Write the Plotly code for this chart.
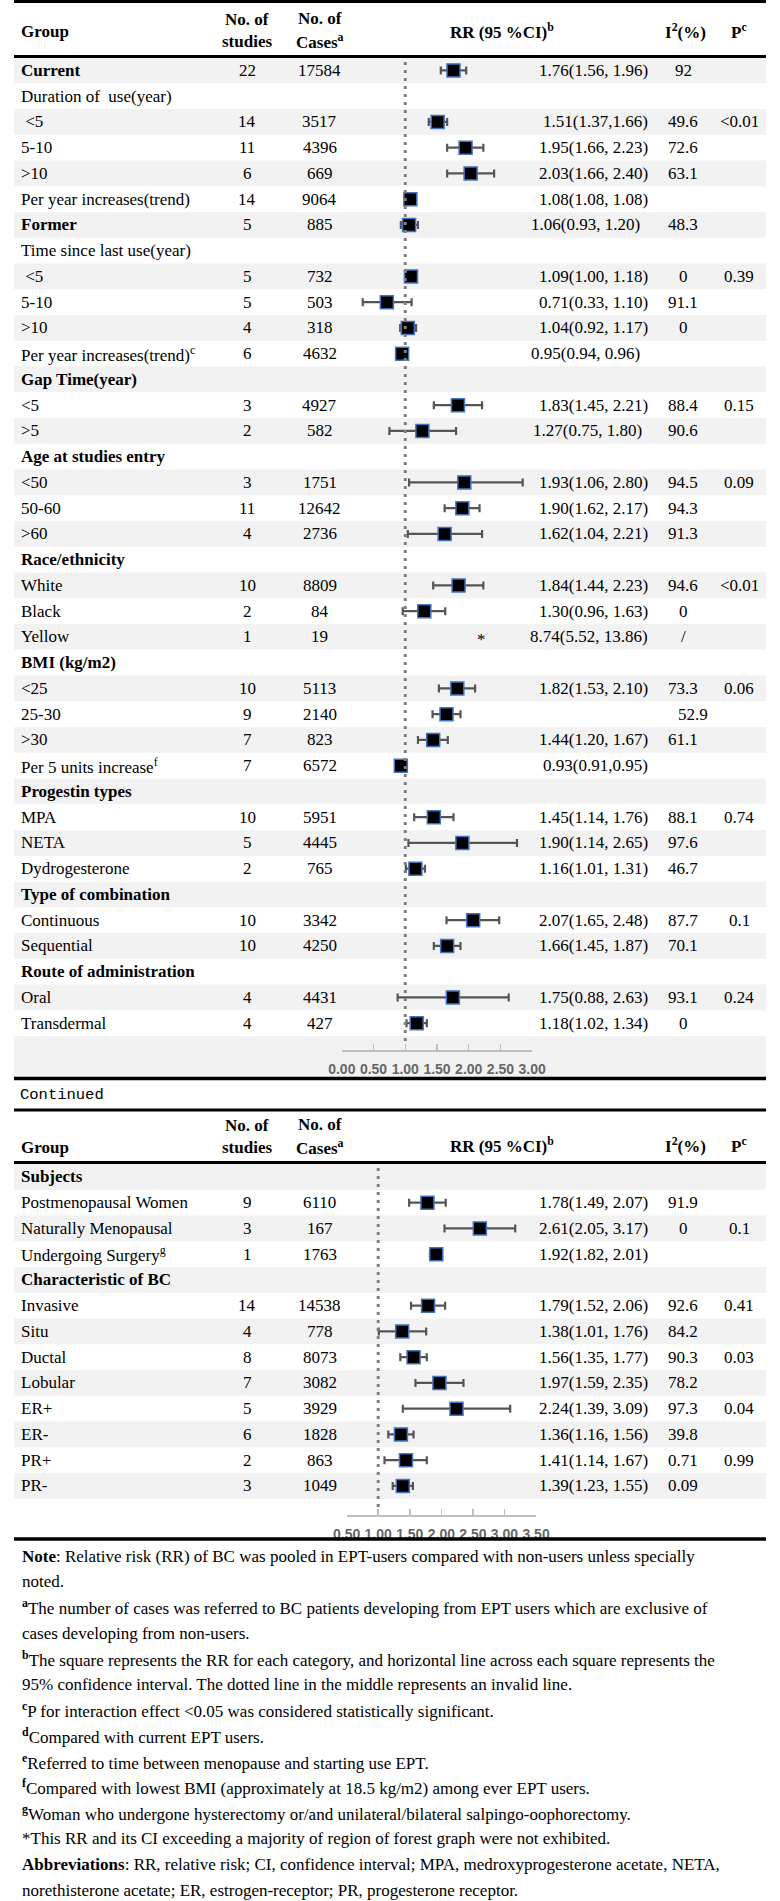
import plotly.graph_objects as go

# ---------------- data: upper panel ----------------
top_groups = ["Current", "Duration of\u00a0 use(year)", "\u00a0<5", "5-10", ">10", "Per year increases(trend)",
              "Former", "Time since last use(year)", "\u00a0<5", "5-10", ">10", "Per year increases(trend)",
              "Gap Time(year)", "<5", ">5", "Age at studies entry", "<50", "50-60", ">60",
              "Race/ethnicity", "White", "Black", "Yellow", "BMI (kg/m2)", "<25", "25-30", ">30",
              "Per 5 units increase", "Progestin types", "MPA", "NETA", "Dydrogesterone",
              "Type of combination", "Continuous", "Sequential", "Route of administration", "Oral", "Transdermal"]
top_group_sup = {11: "c", 27: "f"}
top_studies = ["22", "", "14", "11", "6", "14", "5", "", "5", "5", "4", "6", "", "3", "2", "", "3", "11", "4",
               "", "10", "2", "1", "", "10", "9", "7", "7", "", "10", "5", "2", "", "10", "10", "", "4", "4"]
top_cases = ["17584", "", "3517", "4396", "669", "9064", "885", "", "732", "503", "318", "4632", "", "4927", "582",
             "", "1751", "12642", "2736", "", "8809", "84", "19", "", "5113", "2140", "823", "6572", "", "5951",
             "4445", "765", "", "3342", "4250", "", "4431", "427"]
top_rr_text = ["1.76(1.56, 1.96)", "", "1.51(1.37,1.66)", "1.95(1.66, 2.23)", "2.03(1.66, 2.40)", "1.08(1.08, 1.08)",
               "1.06(0.93, 1.20)", "", "1.09(1.00, 1.18)", "0.71(0.33, 1.10)", "1.04(0.92, 1.17)", "0.95(0.94, 0.96)",
               "", "1.83(1.45, 2.21)", "1.27(0.75, 1.80)", "", "1.93(1.06, 2.80)", "1.90(1.62, 2.17)", "1.62(1.04, 2.21)",
               "", "1.84(1.44, 2.23)", "1.30(0.96, 1.63)", "8.74(5.52, 13.86)", "", "1.82(1.53, 2.10)", "",
               "1.44(1.20, 1.67)", "0.93(0.91,0.95)", "", "1.45(1.14, 1.76)", "1.90(1.14, 2.65)", "1.16(1.01, 1.31)",
               "", "2.07(1.65, 2.48)", "1.66(1.45, 1.87)", "", "1.75(0.88, 2.63)", "1.18(1.02, 1.34)"]
top_i2 = ["92", "", "49.6", "72.6", "63.1", "", "48.3", "", "0", "91.1", "0", "", "", "88.4", "90.6", "", "94.5",
          "94.3", "91.3", "", "94.6", "0", "/", "", "73.3", "52.9", "61.1", "", "", "88.1", "97.6", "46.7", "",
          "87.7", "70.1", "", "93.1", "0"]
top_p = ["", "", "<0.01", "", "", "", "", "", "0.39", "", "", "", "", "0.15", "", "", "0.09", "", "", "", "<0.01",
         "", "", "", "0.06", "", "", "", "", "0.74", "", "", "", "0.1", "", "", "0.24", ""]
# plotted RR and CI (as drawn in the forest graph; None = not drawn)
top_rr = [1.76, None, 1.51, 1.95, 2.03, 1.08, 1.06, None, 1.09, 0.71, 1.04, 0.95, None, 1.83, 1.27, None, 1.93,
          1.90, 1.62, None, 1.84, 1.30, None, None, 1.82, 1.65, 1.44, 0.93, None, 1.45, 1.90, 1.16, None, 2.07,
          1.66, None, 1.75, 1.18]
top_lo = [1.56, None, 1.37, 1.66, 1.66, 1.08, 0.93, None, 1.00, 0.33, 0.92, 0.94, None, 1.45, 0.75, None, 1.06,
          1.62, 1.04, None, 1.44, 0.96, None, None, 1.53, 1.43, 1.20, 0.91, None, 1.14, 1.05, 1.01, None, 1.65,
          1.45, None, 0.88, 1.02]
top_hi = [1.96, None, 1.66, 2.23, 2.40, 1.08, 1.20, None, 1.18, 1.10, 1.17, 0.96, None, 2.21, 1.80, None, 2.85,
          2.17, 2.21, None, 2.23, 1.63, None, None, 2.10, 1.87, 1.67, 0.95, None, 1.76, 2.76, 1.31, None, 2.48,
          1.87, None, 2.63, 1.34]
top_ticks = [0.0, 0.5, 1.0, 1.5, 2.0, 2.5, 3.0]

# ---------------- data: lower panel ----------------
bot_groups = ["Subjects", "Postmenopausal Women", "Naturally Menopausal", "Undergoing Surgery",
              "Characteristic of BC", "Invasive", "Situ", "Ductal", "Lobular", "ER+", "ER-", "PR+", "PR-"]
bot_group_sup = {3: "g"}
bot_studies = ["", "9", "3", "1", "", "14", "4", "8", "7", "5", "6", "2", "3"]
bot_cases = ["", "6110", "167", "1763", "", "14538", "778", "8073", "3082", "3929", "1828", "863", "1049"]
bot_rr_text = ["", "1.78(1.49, 2.07)", "2.61(2.05, 3.17)", "1.92(1.82, 2.01)", "", "1.79(1.52, 2.06)",
               "1.38(1.01, 1.76)", "1.56(1.35, 1.77)", "1.97(1.59, 2.35)", "2.24(1.39, 3.09)", "1.36(1.16, 1.56)",
               "1.41(1.14, 1.67)", "1.39(1.23, 1.55)"]
bot_i2 = ["", "91.9", "0", "", "", "92.6", "84.2", "90.3", "78.2", "97.3", "39.8", "0.71", "0.09"]
bot_p = ["", "", "0.1", "", "", "0.41", "", "0.03", "", "0.04", "", "0.99", ""]
bot_rr = [None, 1.78, 2.61, 1.92, None, 1.79, 1.38, 1.56, 1.97, 2.24, 1.36, 1.44, 1.39]
bot_lo = [None, 1.49, 2.05, 1.82, None, 1.52, 1.01, 1.35, 1.59, 1.39, 1.16, 1.10, 1.23]
bot_hi = [None, 2.07, 3.17, 2.01, None, 2.06, 1.76, 1.77, 2.35, 3.09, 1.56, 1.77, 1.55]
bot_ticks = [0.5, 1.0, 1.5, 2.0, 2.5, 3.0, 3.5]

top_sections = {"Current", "Former", "Gap Time(year)", "Age at studies entry", "Race/ethnicity", "BMI (kg/m2)",
                "Progestin types", "Type of combination", "Route of administration"}
bot_sections = {"Subjects", "Characteristic of BC"}

notes = [
    "<b>Note</b>: Relative risk (RR) of BC was pooled in EPT-users compared with non-users unless specially",
    "noted.",
    "<b><sup>a</sup></b>The number of cases was referred to BC patients developing from EPT users which are exclusive of",
    "cases developing from non-users.",
    "<b><sup>b</sup></b>The square represents the RR for each category, and horizontal line across each square represents the",
    "95% confidence interval. The dotted line in the middle represents an invalid line.",
    "<b><sup>c</sup></b>P for interaction effect &lt;0.05 was considered statistically significant.",
    "<b><sup>d</sup></b>Compared with current EPT users.",
    "<b><sup>e</sup></b>Referred to time between menopause and starting use EPT.",
    "<b><sup>f</sup></b>Compared with lowest BMI (approximately at 18.5 kg/m2) among ever EPT users.",
    "<b><sup>g</sup></b>Woman who undergone hysterectomy or/and unilateral/bilateral salpingo-oophorectomy.",
    "*This RR and its CI exceeding a majority of region of forest graph were not exhibited.",
    "<b>Abbreviations</b>: RR, relative risk; CI, confidence interval; MPA, medroxyprogesterone acetate, NETA,",
    "norethisterone acetate; ER, estrogen-receptor; PR, progesterone receptor.",
]

# ---------------- layout constants ----------------
W, H = 780, 1901
SERIF = "Liberation Serif"
SANS = "Liberation Sans"
MONO = "Liberation Mono"
FS = 17
ROW_H = 25.75
TOP_ROW0 = 57.5
BOT_ROW0 = 1164.0
X_GROUP, X_STUD, X_CASE, X_RR, X_I2, X_P = 5, 242, 317, 660, 694, 752
SHADE = "#f2f2f2"
rr_shift = {6: -8, 11: -8, 14: -6}
i2_shift = {25: 10}


def esc(s):
    return s.replace("<", "&lt;").replace(">", "&gt;")


fig = go.Figure()
shapes = []
ann = []


def text(x, y, s, anchor="left", size=FS, font=SERIF, color="black", xshift=0):
    ann.append(dict(x=x, y=y, xref="x", yref="y", text=s, showarrow=False, xanchor=anchor, yanchor="middle",
                    xshift=xshift, font=dict(family=font, size=size, color=color)))


def hline(y, w=3, color="black"):
    shapes.append(dict(type="line", xref="paper", yref="y", x0=0, x1=1, y0=y, y1=y,
                       line=dict(color=color, width=w), layer="above"))


def band(y0, y1):
    shapes.append(dict(type="rect", xref="paper", yref="y", x0=0, x1=1, y0=y0, y1=y1,
                       fillcolor=SHADE, line=dict(width=0), layer="below"))


def header(ymid, group_low):
    text(X_GROUP, ymid + (10 if group_low else 0), "<b>Group</b>")
    text(X_STUD, ymid - 12, "<b>No. of</b>", "center")
    text(X_STUD, ymid + 10, "<b>studies</b>", "center")
    text(X_CASE, ymid - 13, "<b>No. of</b>", "center")
    text(X_CASE, ymid + 10, "<b>Cases<sup>a</sup></b>", "center")
    yr = ymid + (8 if group_low else 0)
    text(506, yr, "<b>RR (95 %CI)<sup>b</sup></b>", "center")
    text(696, yr, "<b>I<sup>2</sup>(%)</b>", "center")
    text(752, yr, "<b>P<sup>c</sup></b>", "center")


def panel(row0, groups, sups, sections, studies, cases, rrt, i2, p, rr, lo, hi, xa, shift_rr, shift_i2):
    n = len(groups)
    ys = [row0 + ROW_H * (i + 0.5) for i in range(n)]
    for i in range(n):
        if i % 2 == 0:
            band(row0 + ROW_H * i, row0 + ROW_H * (i + 1))
        g = esc(groups[i])
        if groups[i] in sections:
            g = "<b>" + g + "</b>"
        if i in sups:
            g += "<sup>" + sups[i] + "</sup>"
        text(X_GROUP, ys[i], g)
        if studies[i]:
            text(X_STUD, ys[i], studies[i], "center")
        if cases[i]:
            text(X_CASE, ys[i], cases[i], "center")
        if rrt[i]:
            text(X_RR, ys[i], rrt[i], "right", xshift=shift_rr.get(i, 0))
        if i2[i]:
            text(X_I2, ys[i], i2[i], "center", xshift=shift_i2.get(i, 0))
        if p[i]:
            text(X_P, ys[i], esc(p[i]), "center")
    idx = [i for i in range(n) if rr[i] is not None]
    fig.add_trace(go.Scatter(
        x=[rr[i] for i in idx], y=[ys[i] for i in idx], xaxis=xa, yaxis="y", mode="markers",
        marker=dict(symbol="square", size=13, color="black", line=dict(color="#4472c4", width=1.5)),
        error_x=dict(type="data", symmetric=False,
                     array=[hi[i] - rr[i] for i in idx], arrayminus=[rr[i] - lo[i] for i in idx],
                     color="#555555", thickness=2.2, width=4),
        cliponaxis=False, hoverinfo="skip", showlegend=False))
    return ys


# ---- upper panel ----
header(31, False)
ys_top = panel(TOP_ROW0, top_groups, top_group_sup, top_sections, top_studies, top_cases, top_rr_text,
               top_i2, top_p, top_rr, top_lo, top_hi, "x2", rr_shift, i2_shift)
band(TOP_ROW0 + ROW_H * len(top_groups), 1078)
# asterisk for the non-exhibited Yellow row
text(485, ys_top[top_groups.index("Yellow")] + 3, "*", "center", color="#000000")
fig.add_trace(go.Scatter(x=[1, 1], y=[62, 1045], xaxis="x2", yaxis="y", mode="lines",
                         line=dict(color="#808080", width=3, dash="3px,5px"), hoverinfo="skip",
                         showlegend=False, cliponaxis=False))

# ---- lower panel ----
text(4, 1095, "Continued", size=15.5, font=MONO)
header(1137, True)
ys_bot = panel(BOT_ROW0, bot_groups, bot_group_sup, bot_sections, bot_studies, bot_cases, bot_rr_text,
               bot_i2, bot_p, bot_rr, bot_lo, bot_hi, "x3", {}, {})
fig.add_trace(go.Scatter(x=[1, 1], y=[1168, 1510], xaxis="x3", yaxis="y", mode="lines",
                         line=dict(color="#808080", width=3, dash="3px,5px"), hoverinfo="skip",
                         showlegend=False, cliponaxis=False))

# ---- rules ----
hline(1.5, 3)
hline(56.5, 3)
hline(1078.5, 3.5)
hline(1110, 3)
hline(1162.5, 3)
hline(1539, 3.5)

# ---- notes ----
for k, line in enumerate(notes):
    text(6, 1556 + 25.7 * k, line, size=FS)

axis_common = dict(anchor="free", showline=True, linecolor="#bfbfbf", linewidth=1.5, ticks="inside",
                   ticklen=6, tickwidth=1.5, tickcolor="#bfbfbf", showgrid=False, zeroline=False,
                   tickfont=dict(family=SANS, size=14, color="#666666", weight="bold"), fixedrange=True,
                   ticklabelstandoff=6)

fig.update_layout(
    width=W, height=H, margin=dict(l=0, r=0, t=0, b=0), paper_bgcolor="white", plot_bgcolor="rgba(0,0,0,0)",
    xaxis=dict(range=[0, W], domain=[0, 1], visible=False, fixedrange=True),
    yaxis=dict(range=[H, 0], domain=[0, 1], visible=False, fixedrange=True),
    xaxis2=dict(range=[0, 3], domain=[340 / W, 537.5 / W], position=1 - 1050 / H,
                tickvals=top_ticks, ticktext=[f"{t:.2f}" for t in top_ticks], **axis_common),
    xaxis3=dict(range=[0.5, 3.5], domain=[345 / W, 541.5 / W], position=1 - 1515 / H,
                tickvals=bot_ticks, ticktext=[f"{t:.2f}" for t in bot_ticks], **axis_common),
    shapes=shapes, annotations=ann, showlegend=False,
)

fig.write_html("out.html", config={"displayModeBar": False, "staticPlot": True},
               post_script="document.body.style.margin='0';document.body.style.overflow='hidden';")
